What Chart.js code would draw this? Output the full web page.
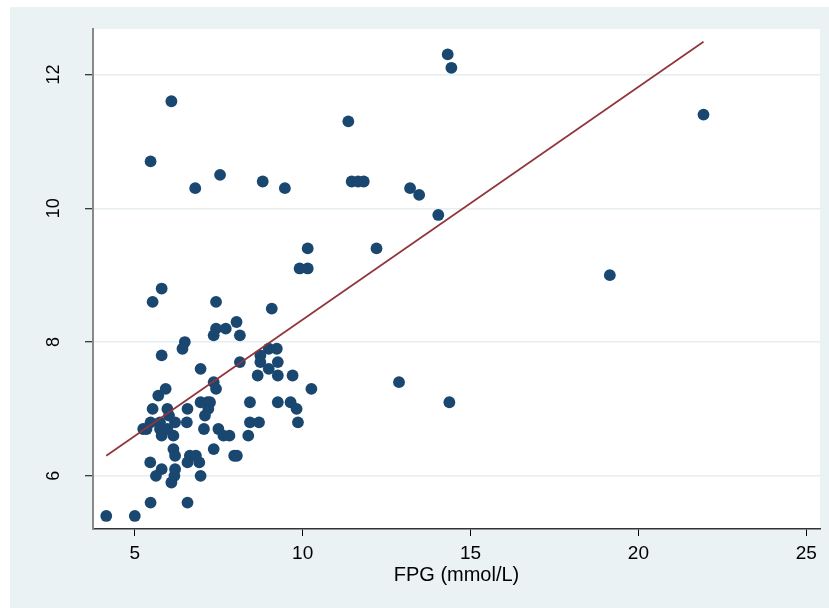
<!DOCTYPE html>
<html lang="en">
<head>
  <meta charset="UTF-8">
  <title>FPG scatter</title>
  <script src="https://cdn.jsdelivr.net/npm/chart.js"></script>
  <style>
    body { margin: 0; background: #fff; }
    canvas { display: block; }
  </style>
</head>
<body>
  <canvas id="fpgChart" width="829" height="608"></canvas>

  <script>
    // FPG (mmol/L) on x, y values
    const fpgValues = [
      4.15, 5.0, 5.47, 6.57,
      6.09, 5.47, 6.80, 7.54, 8.81, 9.47, 11.36, 11.46, 11.65, 11.82,
      13.20, 13.47, 14.04, 14.32, 14.43, 21.94, 19.15, 12.20, 10.15, 9.91, 10.15, 12.87, 14.37,
      5.80, 5.53, 7.42, 9.08, 8.03, 7.42, 7.71, 7.35, 8.13, 6.49, 6.42, 8.99, 9.23, 5.80,
      8.74, 8.13, 8.74, 9.26, 6.96, 8.99, 8.66, 9.26, 9.70, 7.35, 5.92, 7.42, 10.26, 5.70,
      6.96, 7.17, 7.24, 8.43, 9.26, 9.64,
      5.53, 5.97, 6.57, 7.19, 9.82,
      6.02, 7.09,
      5.47, 5.75, 6.20, 6.55, 8.43, 8.70, 9.86,
      5.25, 5.35, 5.75, 5.97, 7.06, 7.49,
      5.80, 6.15, 7.64, 7.82, 8.38,
      6.15, 7.35,
      6.20, 6.64, 6.82, 7.96, 8.04,
      5.46, 6.57, 6.92,
      5.80, 6.20,
      5.63, 6.18, 6.96,
      6.09
    ];
    const yValues = [
      5.4, 5.4, 5.6, 5.6,
      11.6, 10.7, 10.3, 10.5, 10.4, 10.3, 11.3, 10.4, 10.4, 10.4,
      10.3, 10.2, 9.9, 12.3, 12.1, 11.4, 9.0, 9.4, 9.4, 9.1, 9.1, 7.4, 7.1,
      8.8, 8.6, 8.6, 8.5, 8.3, 8.2, 8.2, 8.1, 8.1, 8.0, 7.9, 7.9, 7.9, 7.8,
      7.8, 7.7, 7.7, 7.7, 7.6, 7.6, 7.5, 7.5, 7.5, 7.4, 7.3, 7.3, 7.3, 7.2,
      7.1, 7.1, 7.1, 7.1, 7.1, 7.1,
      7.0, 7.0, 7.0, 7.0, 7.0,
      6.9, 6.9,
      6.8, 6.8, 6.8, 6.8, 6.8, 6.8, 6.8,
      6.7, 6.7, 6.7, 6.7, 6.7, 6.7,
      6.6, 6.6, 6.6, 6.6, 6.6,
      6.4, 6.4,
      6.3, 6.3, 6.3, 6.3, 6.3,
      6.2, 6.2, 6.2,
      6.1, 6.1,
      6.0, 6.0, 6.0,
      5.9
    ];

    // fitted line, end points
    const fitFpg = [4.15, 21.94];
    const fitY = [6.30, 12.49];

    const xTicks = [5, 10, 15, 20, 25];
    const yTicks = [6, 8, 10, 12];

    const bgColor = '#eaf2f3';
    const fontFamily = '"Liberation Sans", Arial, sans-serif';

    // light outer region + white plot region
    const backdrop = {
      id: 'backdrop',
      beforeDraw(chart) {
        const { ctx, chartArea: a, width, height } = chart;
        ctx.save();
        ctx.fillStyle = '#fff';
        ctx.fillRect(0, 0, width, height);
        ctx.fillStyle = bgColor;
        ctx.fillRect(10, 7, width - 10, height - 7);
        ctx.fillStyle = '#fff';
        ctx.fillRect(a.left, a.top, a.right - a.left, a.bottom - a.top);
        ctx.restore();
      }
    };

    // y tick labels turned 90 degrees, Stata style
    const yLabels = {
      id: 'yLabels',
      afterDraw(chart) {
        const { ctx, scales: { y } } = chart;
        ctx.save();
        ctx.fillStyle = '#000';
        ctx.font = '18px ' + fontFamily;
        ctx.textAlign = 'center';
        ctx.textBaseline = 'alphabetic';
        yTicks.forEach(v => {
          ctx.save();
          ctx.translate(58.5, y.getPixelForValue(v));
          ctx.rotate(-Math.PI / 2);
          ctx.fillText(String(v), 0, 0);
          ctx.restore();
        });
        ctx.restore();
      }
    };

    const points = fpgValues.map((x, i) => ({ x: x, y: yValues[i] }));
    const fitPoints = fitFpg.map((x, i) => ({ x: x, y: fitY[i] }));

    new Chart(document.getElementById('fpgChart'), {
      type: 'scatter',
      data: {
        datasets: [
          {
            type: 'line',
            data: fitPoints,
            borderColor: '#90353b',
            borderWidth: 1.7,
            pointRadius: 0,
            fill: false,
            order: 0
          },
          {
            data: points,
            backgroundColor: '#1a476f',
            borderColor: '#1a476f',
            borderWidth: 0,
            pointRadius: 5.9,
            order: 1
          }
        ]
      },
      options: {
        responsive: false,
        devicePixelRatio: 1,
        animation: false,
        layout: { padding: { left: 0, right: 9, top: 29, bottom: 0 } },
        plugins: {
          legend: { display: false },
          tooltip: { enabled: false }
        },
        scales: {
          x: {
            type: 'linear',
            min: 3.755,
            max: 25.41,
            afterBuildTicks: s => { s.ticks = xTicks.map(v => ({ value: v })); },
            afterFit: s => { s.height = 79; },
            border: { color: '#333', width: 1.5 },
            grid: { drawOnChartArea: false, drawTicks: true, tickLength: 7, tickColor: '#000', tickWidth: 1 },
            ticks: { color: '#000', font: { family: fontFamily, size: 19 }, padding: 6, maxRotation: 0 },
            title: {
              display: true,
              text: 'FPG (mmol/L)',
              color: '#000',
              font: { family: fontFamily, size: 20 },
              padding: { top: 0, bottom: 21 }
            }
          },
          y: {
            type: 'linear',
            min: 5.205,
            max: 12.68,
            afterBuildTicks: s => { s.ticks = yTicks.map(v => ({ value: v })); },
            afterFit: s => { s.width = 93; },
            border: { color: '#888', width: 2 },
            grid: { color: '#e6eef2', lineWidth: 1.5, drawTicks: true, tickLength: 8, tickColor: '#000', tickWidth: 1 },
            ticks: { color: 'rgba(0,0,0,0)', font: { family: fontFamily, size: 18 } }
          }
        }
      },
      plugins: [backdrop, yLabels]
    });
  </script>
</body>
</html>
